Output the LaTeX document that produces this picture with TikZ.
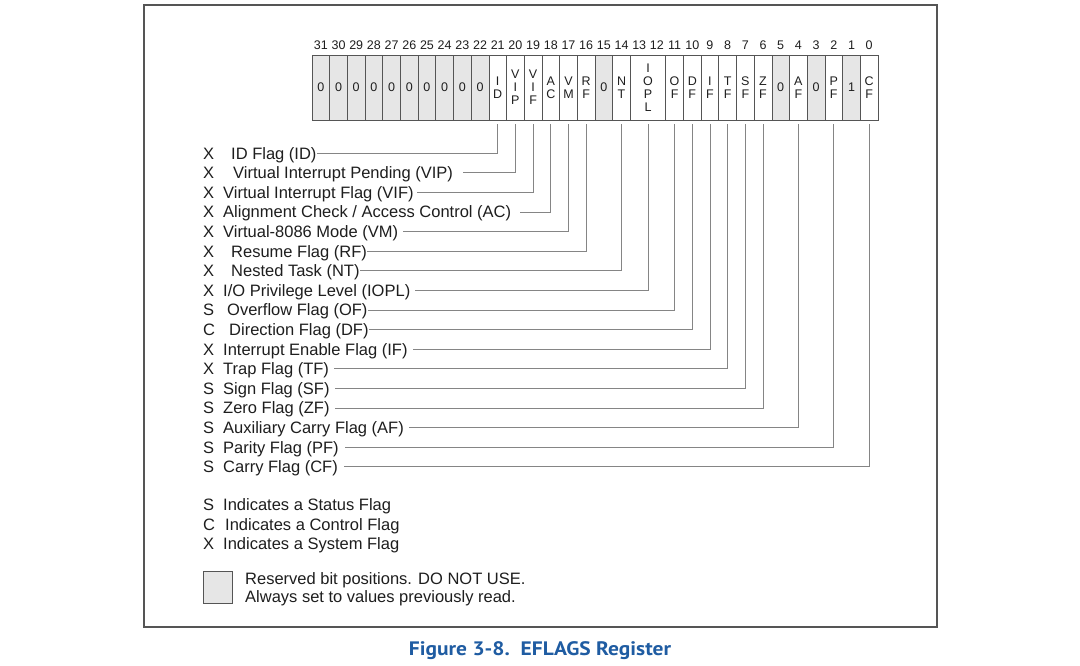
\documentclass[tikz,border=0pt]{standalone}
\usepackage{fontspec}
\setmainfont{Liberation Sans}
\newfontfamily\capfont{PT Sans}
\definecolor{txt}{HTML}{1E1E1E}
\definecolor{ln}{HTML}{858585}
\definecolor{frm}{HTML}{555555}
\definecolor{res}{HTML}{E6E6E6}
\definecolor{capblue}{HTML}{1F5CA2}
\begin{document}
\begin{tikzpicture}[x=1pt,y=-1pt,
 cell/.style={draw=frm, line width=0.7pt, minimum height=65pt, minimum width=17.6875pt, inner sep=0pt, font=\fontsize{12.5}{13}\selectfont, align=center, text=txt},
 rescell/.style={cell, fill=res},
 bitnum/.style={font=\fontsize{12.5}{13}\selectfont, text=txt, inner sep=0pt},
 flag/.style={anchor=base west, inner sep=0pt, text height=11.6pt, text depth=0pt, font=\fontsize{16.5}{16.5}\selectfont, text=txt},
 lead/.style={draw=ln, line width=0.9pt, shorten <=4pt},
]
\useasboundingbox (0,0) rectangle (1080,665);
\fill[white] (0,0) rectangle (1080,665);
\draw[frm, line width=1.2pt] (144,5) rectangle (937,627);
% reserved high bits
\foreach \b in {31,...,22} {
  \pgfmathsetmacro\xc{312+(31.5-\b)*17.6875}
  \node[rescell] (c\b) at (\xc,87.5) {0};
}
\foreach \b in {31,...,0} {
  \pgfmathsetmacro\xc{312+(31.5-\b)*17.6875}
  \node[bitnum] (n\b) at (\xc,45) {\b};
}
\node[cell] (c21) at ({312+10.5*17.6875},87.5) {I\\D};
\node[cell] (c20) at ({312+11.5*17.6875},87.5) {V\\I\\P};
\node[cell] (c19) at ({312+12.5*17.6875},87.5) {V\\I\\F};
\node[cell] (c18) at ({312+13.5*17.6875},87.5) {A\\C};
\node[cell] (c17) at ({312+14.5*17.6875},87.5) {V\\M};
\node[cell] (c16) at ({312+15.5*17.6875},87.5) {R\\F};
\node[rescell] (c15) at ({312+16.5*17.6875},87.5) {0};
\node[cell] (c14) at ({312+17.5*17.6875},87.5) {N\\T};
\node[cell, minimum width=35.375pt] (c12) at ({312+19*17.6875},87.5) {I\\O\\P\\L};
\node[cell] (c11) at ({312+20.5*17.6875},87.5) {O\\F};
\node[cell] (c10) at ({312+21.5*17.6875},87.5) {D\\F};
\node[cell] (c9) at ({312+22.5*17.6875},87.5) {I\\F};
\node[cell] (c8) at ({312+23.5*17.6875},87.5) {T\\F};
\node[cell] (c7) at ({312+24.5*17.6875},87.5) {S\\F};
\node[cell] (c6) at ({312+25.5*17.6875},87.5) {Z\\F};
\node[rescell] (c5) at ({312+26.5*17.6875},87.5) {0};
\node[cell] (c4) at ({312+27.5*17.6875},87.5) {A\\F};
\node[rescell] (c3) at ({312+28.5*17.6875},87.5) {0};
\node[cell] (c2) at ({312+29.5*17.6875},87.5) {P\\F};
\node[rescell] (c1) at ({312+30.5*17.6875},87.5) {1};
\node[cell] (c0) at ({312+31.5*17.6875},87.5) {C\\F};
\draw[frm, line width=1pt] (312,55) rectangle (878,120);
% flag labels (baseline = leader y + 5.8)
\node[flag] (kID) at (203,159.1) {X};
\node[flag] (lID) at (231,159.1) {ID Flag (ID)};
\node[flag] (kVIP) at (203,178.7) {X};
\node[flag] (lVIP) at (233,178.7) {Virtual Interrupt Pending (VIP)};
\node[flag] (kVIF) at (203,198.3) {X};
\node[flag] (lVIF) at (223,198.3) {Virtual Interrupt Flag (VIF)};
\node[flag] (kAC) at (203,217.9) {X};
\node[flag] (lAC) at (223,217.9) {Alignment Check / Access Control (AC)};
\node[flag] (kVM) at (203,237.5) {X};
\node[flag] (lVM) at (223,237.5) {Virtual-8086 Mode (VM)};
\node[flag] (kRF) at (203,257.1) {X};
\node[flag] (lRF) at (231,257.1) {Resume Flag (RF)};
\node[flag] (kNT) at (203,276.6) {X};
\node[flag] (lNT) at (231,276.6) {Nested Task (NT)};
\node[flag] (kIOPL) at (203,296.2) {X};
\node[flag] (lIOPL) at (223,296.2) {I/O Privilege Level (IOPL)};
\node[flag] (kOF) at (203,315.8) {S};
\node[flag] (lOF) at (227,315.8) {Overflow Flag (OF)};
\node[flag] (kDF) at (203,335.4) {C};
\node[flag] (lDF) at (229,335.4) {Direction Flag (DF)};
\node[flag] (kIF) at (203,355.0) {X};
\node[flag] (lIF) at (223,355.0) {Interrupt Enable Flag (IF)};
\node[flag] (kTF) at (203,374.6) {X};
\node[flag] (lTF) at (223,374.6) {Trap Flag (TF)};
\node[flag] (kSF) at (203,394.2) {S};
\node[flag] (lSF) at (223,394.2) {Sign Flag (SF)};
\node[flag] (kZF) at (203,413.8) {S};
\node[flag] (lZF) at (223,413.8) {Zero Flag (ZF)};
\node[flag] (kAF) at (203,433.4) {S};
\node[flag] (lAF) at (223,433.4) {Auxiliary Carry Flag (AF)};
\node[flag] (kPF) at (203,453.0) {S};
\node[flag] (lPF) at (223,453.0) {Parity Flag (PF)};
\node[flag] (kCF) at (203,472.5) {S};
\node[flag] (lCF) at (223,472.5) {Carry Flag (CF)};
% leaders
\draw[lead, shorten >=0pt] (c21.south) |- (lID.east);
\draw[lead, shorten >=10pt] (c20.south) |- (lVIP.east);
\draw[lead, shorten >=3pt] (c19.south) |- (lVIF.east);
\draw[lead, shorten >=9pt] (c18.south) |- (lAC.east);
\draw[lead, shorten >=5pt] (c17.south) |- (lVM.east);
\draw[lead, shorten >=0pt] (c16.south) |- (lRF.east);
\draw[lead, shorten >=0pt] (c14.south) |- (lNT.east);
\draw[lead, shorten >=5pt] (c12.south) |- (lIOPL.east);
\draw[lead, shorten >=0pt] (c11.south) |- (lOF.east);
\draw[lead, shorten >=0pt] (c10.south) |- (lDF.east);
\draw[lead, shorten >=5pt] (c9.south) |- (lIF.east);
\draw[lead, shorten >=5pt] (c8.south) |- (lTF.east);
\draw[lead, shorten >=5pt] (c7.south) |- (lSF.east);
\draw[lead, shorten >=5pt] (c6.south) |- (lZF.east);
\draw[lead, shorten >=5pt] (c4.south) |- (lAF.east);
\draw[lead, shorten >=6pt] (c2.south) |- (lPF.east);
\draw[lead, shorten >=6pt] (c0.south) |- (lCF.east);
% legend
\node[flag] (kS) at (203,510.5) {S};
\node[flag] (tS) at (223,510.5) {Indicates a Status Flag};
\node[flag] (kC) at (203,530) {C};
\node[flag] (tC) at (225,530) {Indicates a Control Flag};
\node[flag] (kX) at (203,549.3) {X};
\node[flag] (tX) at (223,549.3) {Indicates a System Flag};
\node[draw=frm, fill=res, line width=1pt, minimum width=29pt, minimum height=31.5pt, inner sep=0pt] (rbox) at (218,587.5) {};
\node[flag] (r1) at (245,584) {Reserved bit positions. DO NOT USE.};
\node[flag] (r2) at (245,602.7) {Always set to values previously read.};
% caption
\node[text=capblue, anchor=base, font=\capfont\bfseries\fontsize{19.5}{20}\selectfont, inner sep=0pt] (cap) at (540,655) {\scalebox{1.1}[1]{Figure 3-8.\ \ EFLAGS Register}};
\end{tikzpicture}
\end{document}
